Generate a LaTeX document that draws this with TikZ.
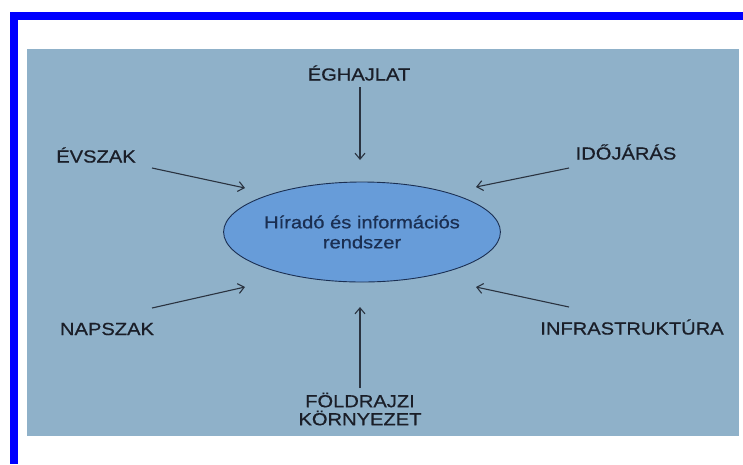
\documentclass[tikz,border=0pt]{standalone}
\usepackage{fontspec}
\setmainfont{Liberation Sans}[FakeStretch=1.15,FakeBold=0.6]
\usetikzlibrary{arrows.meta,shapes.geometric}

\definecolor{frameblue}{HTML}{0000FF}
\definecolor{panelblue}{HTML}{8FB1C9}
\definecolor{ovalblue}{HTML}{679CD9}
\definecolor{ovalline}{HTML}{1B2F52}
\definecolor{labelink}{HTML}{1A1E28}
\definecolor{arrowink}{HTML}{2A3340}

\tikzset{
  label/.style={font=\fontsize{17.5}{18}\selectfont, text=labelink, align=center, inner sep=0pt},
  arrow/.style={draw=arrowink, line width=1.1pt, -{Straight Barb[length=6pt,width=10pt]}}
}

\begin{document}
\begin{tikzpicture}[x=1pt, y=-1pt]
% Fix the page size
\useasboundingbox (0,0) rectangle (743,464);

% Draw the frame and the panel
\fill[frameblue] (10,12) rectangle (743,20);
\fill[frameblue] (10,12) rectangle (18,464);
\fill[panelblue] (27,49) rectangle (739,436);

% The central oval
\node[ellipse, draw=ovalline, fill=ovalblue, line width=0.9pt, minimum width=210, minimum height=100,
  inner sep=0pt, align=center, text=ovalline, font=\fontsize{17.5}{20}\selectfont] (system) at (362,232)
  {Híradó és információs\\rendszer};

% The factors around it
\node[label] (eghajlat) at (359,73) {ÉGHAJLAT};
\node[label] (evszak) at (96,155) {ÉVSZAK};
\node[label] (idojaras) at (626,152) {IDŐJÁRÁS};
\node[label] (napszak) at (107,329) {NAPSZAK};
\node[label] (infra) at (632,327) {INFRASTRUKTÚRA};
\node[label] (foldrajz) at (360,409) {FÖLDRAJZI\\KÖRNYEZET};

% Arrow ends
\coordinate (eghajlat-a) at (360,87);   \coordinate (eghajlat-b) at (360,160);
\coordinate (evszak-a) at (152,168);    \coordinate (evszak-b) at (245,188);
\coordinate (idojaras-a) at (569,168);  \coordinate (idojaras-b) at (476,187);
\coordinate (napszak-a) at (152,308);   \coordinate (napszak-b) at (245,287);
\coordinate (infra-a) at (569,307);     \coordinate (infra-b) at (476,287);
\coordinate (foldrajz-a) at (360,388);  \coordinate (foldrajz-b) at (360,307);

% Draw the arrows
\foreach \f in {eghajlat,evszak,idojaras,napszak,infra,foldrajz}
  \draw[arrow] (\f-a) -- (\f-b);
\end{tikzpicture}
\end{document}
